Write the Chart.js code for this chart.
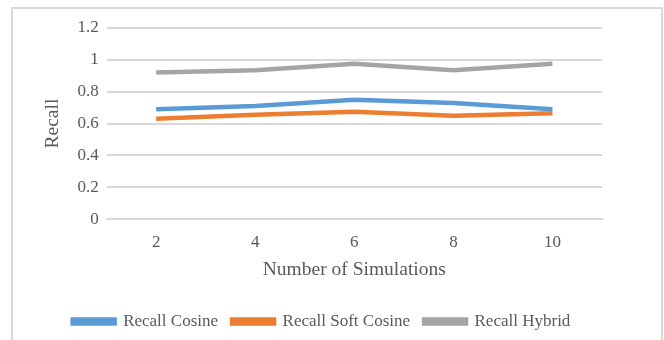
<!DOCTYPE html>
<html>
<head>
<meta charset="utf-8">
<script src="https://cdn.jsdelivr.net/npm/chart.js@4"></script>
<style>
  html, body { margin: 0; padding: 0; background: #fff; }
  #wrap { position: relative; width: 664px; height: 340px; overflow: hidden; }
  #frame { position: absolute; left: 11px; top: 7px; width: 648px; height: 345px; border: 2px solid #d9d9d9; }
  #myChart { position: absolute; left: 0; top: 0; }
</style>
</head>
<body>
<div id="wrap">
  <div id="frame"></div>
  <canvas id="myChart" width="664" height="340"></canvas>
</div>
<script>
let simulations = ["2", "4", "6", "8", "10"]
let recallCosine = [0.69, 0.71, 0.75, 0.73, 0.69]
let recallSoftCosine = [0.63, 0.655, 0.675, 0.65, 0.665]
let recallHybrid = [0.92, 0.935, 0.975, 0.935, 0.975]

const police = { family: "'Liberation Serif', 'Times New Roman', serif", size: 17 }

const data = {
    labels: simulations,
    datasets: [{
        label: 'Recall Cosine',
        data: recallCosine,
        borderColor: '#5B9BD5',
        backgroundColor: '#5B9BD5',
        borderWidth: 4.5,
        pointRadius: 0,
        tension: 0
    }, {
        label: 'Recall Soft Cosine',
        data: recallSoftCosine,
        borderColor: '#ED7D31',
        backgroundColor: '#ED7D31',
        borderWidth: 4.5,
        pointRadius: 0,
        tension: 0
    }, {
        label: 'Recall Hybrid',
        data: recallHybrid,
        borderColor: '#A5A5A5',
        backgroundColor: '#A5A5A5',
        borderWidth: 4.5,
        pointRadius: 0,
        tension: 0
    }]
};

const config = {
    type: 'line',
    data: data,
    options: {
        responsive: false,
        animation: false,
        layout: { padding: { left: 41, right: 62, top: 28, bottom: 0 } },
        plugins: {
            tooltip: { enabled: false },
            legend: {
                position: 'bottom',
                labels: {
                    boxWidth: 42,
                    boxHeight: 4,
                    color: '#595959',
                    font: police,
                    padding: 14
                }
            }
        },
        scales: {
            x: {
                offset: true,
                grid: { display: false, drawTicks: false },
                border: { display: true, color: '#d9d9d9', width: 2 },
                ticks: { color: '#595959', font: police, padding: 13 },
                title: {
                    display: true,
                    text: 'Number of Simulations',
                    color: '#595959',
                    font: { family: police.family, size: 19.5 },
                    padding: { top: -7, bottom: 17 }
                }
            },
            y: {
                min: 0,
                max: 1.2,
                ticks: {
                    stepSize: 0.2,
                    color: '#595959',
                    font: police,
                    padding: 8,
                    callback: (v) => String(Math.round(v * 10) / 10)
                },
                grid: { color: '#d9d9d9', lineWidth: 2, drawTicks: false },
                border: { display: false },
                title: {
                    display: true,
                    text: 'Recall',
                    color: '#595959',
                    font: { family: police.family, size: 19.5 },
                    padding: { top: 0, bottom: 5 }
                }
            }
        }
    }
};

new Chart(document.getElementById('myChart'), config);
</script>
</body>
</html>
